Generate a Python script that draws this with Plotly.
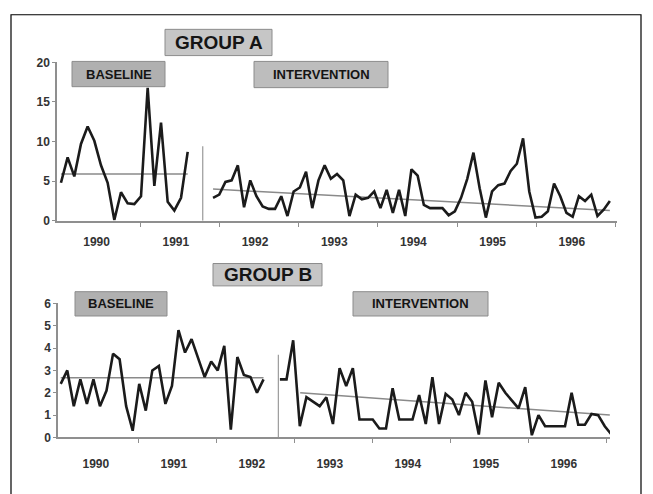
import numpy as np
import plotly.graph_objects as go

W, H = 653, 494

# ---------------- data ----------------
YEARS = [1990, 1991, 1992, 1993, 1994, 1995, 1996]
YEAR_LABELS = [str(y) for y in YEARS]

# Group A
A_BASE_SPAN = (1990.0, 1991.6)
a_baseline = [4.8, 8.0, 5.6, 9.7, 11.9, 10.1, 7.0, 4.8, 0.1, 3.6,
              2.2, 2.1, 3.1, 16.8, 4.4, 12.4, 2.4, 1.3, 2.9, 8.7]
A_INT_SPAN = (1991.92, 1996.93)
a_intervention = [2.9, 3.3, 4.9, 5.1, 7.0, 1.7, 5.1, 3.1, 1.8, 1.5,
                  1.5, 3.1, 0.6, 3.7, 4.2, 6.2, 1.6, 5.1, 7.0, 5.3,
                  5.9, 5.1, 0.6, 3.3, 2.7, 2.9, 3.7, 1.6, 3.9, 1.0,
                  3.9, 0.6, 6.5, 5.7, 2.0, 1.6, 1.6, 1.6, 0.7, 1.2,
                  2.9, 5.3, 8.6, 4.1, 0.4, 3.7, 4.5, 4.7, 6.3, 7.2,
                  10.4, 3.7, 0.4, 0.5, 1.2, 4.7, 3.1, 1.0, 0.5, 3.1,
                  2.5, 3.3, 0.6, 1.4, 2.5]
a_baseline_level = 5.9
a_trend = [4.0, 1.3]
a_phase_change = 1991.79
a_phase_top = 9.4

# Group B
B_BASE_SPAN = (1990.0, 1992.6)
b_baseline = [2.4, 3.0, 1.4, 2.6, 1.5, 2.6, 1.4, 2.1, 3.75, 3.5,
              1.4, 0.3, 2.4, 1.2, 3.0, 3.2, 1.5, 2.3, 4.8, 3.8,
              4.4, 3.5, 2.7, 3.4, 3.0, 4.1, 0.35, 3.6, 2.8, 2.7,
              2.0, 2.6]
B_INT_SPAN = (1992.81, 1997.06)
b_intervention = [2.6, 2.6, 4.35, 0.5, 1.8, 1.6, 1.4, 1.8, 0.6, 3.1,
                  2.3, 3.1, 0.8, 0.8, 0.8, 0.4, 0.4, 2.2, 0.8, 0.8,
                  0.8, 1.9, 0.6, 2.7, 0.6, 1.95, 1.7, 1.0, 2.0, 1.6,
                  0.13, 2.55, 0.9, 2.45, 2.0, 1.65, 1.3, 2.25, 0.1, 1.0,
                  0.5, 0.5, 0.5, 0.5, 2.0, 0.57, 0.57, 1.05, 1.0, 0.5,
                  0.13]
b_baseline_level = 2.67
B_TREND_SPAN = (1993.07, 1997.04)
b_trend = [2.0, 1.0]
b_phase_change = 1992.79
b_phase_top = 3.7

# ---------------- styling ----------------
FONT = "Liberation Sans, Arial, sans-serif"
AXIS_GREY = "#8f8f8f"
REF_GREY = "#8a8a8a"
INK = "#1b1b1b"


def px_x(p):
    return p / W


def px_y(p):
    return 1 - p / H


fig = go.Figure()


def series(x0, x1, values, xa, ya):
    xs = np.linspace(x0, x1, len(values))
    fig.add_trace(go.Scatter(x=xs, y=values, mode="lines", xaxis=xa, yaxis=ya,
                             line=dict(color=INK, width=2.6), showlegend=False,
                             hoverinfo="skip"))


def ref_line(xs, ys, xa, ya, width=1.5, color=REF_GREY):
    fig.add_trace(go.Scatter(x=xs, y=ys, mode="lines", xaxis=xa, yaxis=ya,
                             line=dict(color=color, width=width), showlegend=False,
                             hoverinfo="skip"))


# Group A panel
ref_line(list(A_BASE_SPAN), [a_baseline_level] * 2, "x", "y")
ref_line(list(A_INT_SPAN), a_trend, "x", "y")
ref_line([a_phase_change] * 2, [0, a_phase_top], "x", "y", width=1.2, color="#9a9a9a")
series(*A_BASE_SPAN, a_baseline, "x", "y")
series(*A_INT_SPAN, a_intervention, "x", "y")

# Group B panel
ref_line(list(B_BASE_SPAN), [b_baseline_level] * 2, "x2", "y2")
ref_line(list(B_TREND_SPAN), b_trend, "x2", "y2")
ref_line([b_phase_change] * 2, [0, b_phase_top], "x2", "y2", width=1.2, color="#9a9a9a")
series(*B_BASE_SPAN, b_baseline, "x2", "y2")
series(*B_INT_SPAN, b_intervention, "x2", "y2")

label_pos = [y + 0.45 for y in YEARS]
tick_font = dict(family=FONT, size=12, color="#333333", weight="bold")

xcommon = dict(showgrid=False, zeroline=False, showline=True, linecolor=AXIS_GREY,
               linewidth=1.5, tickmode="array", tickvals=label_pos, ticktext=YEAR_LABELS,
               ticks="outside", ticklen=0, tickfont=tick_font,
               minor=dict(tickmode="array", tickvals=[y + 1 for y in YEARS],
                          ticks="outside", ticklen=4, tickcolor=AXIS_GREY, tickwidth=1),
               fixedrange=True)
ycommon = dict(showgrid=False, zeroline=False, showline=True, linecolor=AXIS_GREY,
               linewidth=1.5, ticks="outside", ticklen=3, tickcolor=AXIS_GREY,
               tickfont=tick_font, fixedrange=True)

fig.update_layout(
    width=W, height=H,
    margin=dict(l=0, r=0, t=0, b=0),
    paper_bgcolor="white", plot_bgcolor="rgba(0,0,0,0)",
    xaxis=dict(xcommon, domain=[px_x(57), px_x(617)], range=[1989.95, 1997.02],
               anchor="y", ticklabelstandoff=9),
    yaxis=dict(ycommon, domain=[px_y(220), px_y(57)], range=[0, 20],
               tickvals=[0, 5, 10, 15, 20], anchor="x"),
    xaxis2=dict(xcommon, domain=[px_x(58), px_x(610)], range=[1989.965, 1997.042],
                anchor="y2", ticklabelstandoff=14),
    yaxis2=dict(ycommon, domain=[px_y(443), px_y(305)], range=[0, 6],
                tickvals=[0, 1, 2, 3, 4, 5, 6], anchor="x2"),
)

shapes = []
annotations = []

# outer frame (open at the bottom edge of the page)
shapes.append(dict(type="rect", xref="paper", yref="paper",
                   x0=px_x(11), x1=px_x(641), y0=px_y(520), y1=px_y(8),
                   line=dict(color="black", width=1.2), fillcolor="rgba(0,0,0,0)"))


def label_box(x0, y0, x1, y1, text, size, fill, weight="bold"):
    shapes.append(dict(type="rect", xref="paper", yref="paper",
                       x0=px_x(x0), x1=px_x(x1), y0=px_y(y1), y1=px_y(y0),
                       fillcolor=fill, line=dict(color="#8c8c8c", width=1)))
    annotations.append(dict(xref="paper", yref="paper",
                            x=px_x((x0 + x1) / 2), y=px_y((y0 + y1) / 2),
                            text=text, showarrow=False, xanchor="center", yanchor="middle",
                            font=dict(family=FONT, size=size, color="#151515", weight=weight)))


label_box(165, 23, 272, 50, "GROUP A", 19, "#c6c6c6")
label_box(213, 264, 322, 287, "GROUP B", 19, "#c6c6c6")
label_box(72, 56, 165, 82, "BASELINE", 13, "#b0b0b0")
label_box(254, 56, 388, 83, "INTERVENTION", 13, "#bdbdbd")
label_box(75, 293, 167, 318, "BASELINE", 13, "#b0b0b0")
label_box(353, 293, 488, 318, "INTERVENTION", 13, "#bdbdbd")

fig.update_layout(shapes=shapes, annotations=annotations)

fig.write_html("out.html")
